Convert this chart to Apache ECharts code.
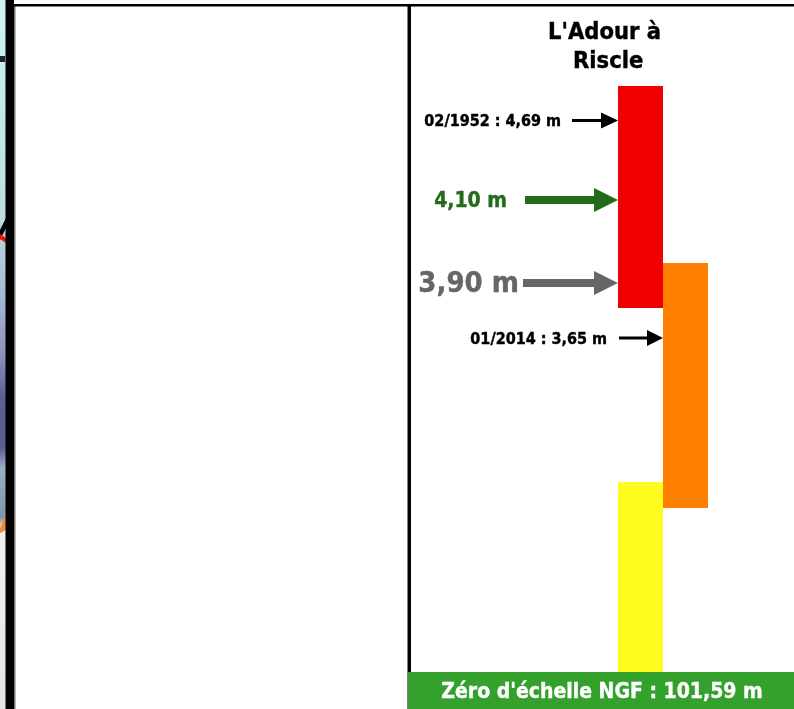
<!DOCTYPE html>
<html><head><meta charset="utf-8">
<style>html,body{margin:0;padding:0;background:#fff}#c{width:794px;height:709px}</style>
<script src="https://cdn.jsdelivr.net/npm/echarts@6/dist/echarts.min.js"></script>
</head><body><div id="c"></div>
<script>
// Schematic, not to scale: levels are read off the figure's hidden vertical axis
const columns = ['gauche', 'droite'];
const bandColumn = [0, 1, 0];
const bandLow = [364, 164, 0];
const bandHigh = [586, 409, 190];
const bandColors = ['#f00000', '#ff8000', '#fffb1e'];
const markerLabels = ['02/1952 : 4,69 m', '4,10 m', '3,90 m', '01/2014 : 3,65 m'];
const markerColumn = [0, 0, 0, 1];
const markerLevels = [551.5, 472, 389, 334];
const titleText = "L'Adour à\n Riscle";
const footerText = "Zéro d'échelle NGF : 101,59 m";

const FONT = '"DejaVu Sans Condensed", "DejaVu Sans", sans-serif';
const markerStyles = [
  {color:'#000',    font:16,  shaft:46, head:17, headW:16, thick:3, gap:11},
  {color:'#246b1c', font:21,  shaft:93, head:24, headW:24, thick:8, gap:18},
  {color:'#666666', font:29,  shaft:95, head:24, headW:24, thick:8, gap:4},
  {color:'#000',    font:16,  shaft:44, head:16, headW:16, thick:3, gap:12}
];

const bandData = bandColumn.map((c,i)=>[c,bandLow[i],bandHigh[i],i]);
const markerData = markerColumn.map((c,i)=>[c,markerLevels[i],i]);

const chart = echarts.init(document.getElementById('c'), null, {width:794, height:709});
chart.setOption({
  animation:false,
  backgroundColor:'#fff',
  title:{text:titleText, left:599.5, top:14, textAlign:'center',
    textStyle:{fontFamily:FONT,fontWeight:'bold',fontSize:23.5,lineHeight:28.5,color:'#000',textBorderColor:'#000',textBorderWidth:0.4}},
  grid:{left:618, width:90, top:0, height:672},
  xAxis:{type:'category',data:columns,show:false},
  yAxis:{type:'value',min:0,max:672,show:false},
  graphic:{elements:[
    {type:'rect',z:0,shape:{x:0,y:0,width:6,height:709},style:{fill:{type:'linear',x:0,y:0,x2:0,y2:1,colorStops:[
      {offset:0,color:'#d4f4f2'},{offset:.1,color:'#c6ecec'},{offset:.3,color:'#bcdce2'},{offset:.42,color:'#a6b8d2'},
      {offset:.5,color:'#8f90bc'},{offset:.56,color:'#5f5f96'},{offset:.63,color:'#5a5a92'},{offset:.66,color:'#9ab0c6'},{offset:.73,color:'#7f93aa'},
      {offset:.745,color:'#f0f0f0'},{offset:1,color:'#e4e4e4'}]}}},
    {type:'rect',z:1,shape:{x:0,y:56,width:5,height:6},style:{fill:'#223'}},
    {type:'polygon',z:1,shape:{points:[[0,230],[6,218],[6,228],[0,240]]},style:{fill:'#000'}},
    {type:'polygon',z:1,shape:{points:[[0,234],[6,238],[6,243],[0,239]]},style:{fill:'#f01010'}},
    {type:'polygon',z:1,shape:{points:[[0,528],[6,514],[6,530],[0,533]]},style:{fill:'#f58a30'}},
    {type:'rect',z:2,shape:{x:5.5,y:0,width:8.5,height:709},style:{fill:'#000'}},
    {type:'rect',z:2,shape:{x:14,y:4,width:1.5,height:705},style:{fill:'#777'}},
    {type:'rect',z:2,shape:{x:14,y:4,width:780,height:2.5},style:{fill:'#000'}},
    {type:'rect',z:2,shape:{x:407.5,y:4,width:3.5,height:705},style:{fill:'#000'}},
    {type:'rect',z:5,shape:{x:408,y:672,width:386,height:37},style:{fill:'#34a12d'}},
    {type:'text',z:6,x:602,y:693,style:{text:footerText,fill:'#fff',stroke:'#fff',lineWidth:0.4,align:'center',verticalAlign:'middle',
      font:'bold 21px '+FONT}}
  ]},
  series:[
    {type:'custom',coordinateSystem:'cartesian2d',clip:false,data:bandData,
     encode:{x:0,y:[1,2]},
     renderItem(p,api){
       const a=api.coord([api.value(0),api.value(1)]), b=api.coord([api.value(0),api.value(2)]);
       const w=api.size([1,0])[0];
       return {type:'rect',shape:{x:a[0]-w/2,y:b[1],width:w,height:a[1]-b[1]},style:{fill:bandColors[api.value(3)]}};
     }},
    {type:'custom',coordinateSystem:'cartesian2d',clip:false,data:markerData,
     encode:{x:0,y:1},z:3,
     renderItem(p,api){
       const i=api.value(2), s=markerStyles[i];
       const c=api.coord([api.value(0),api.value(1)]);
       const tip=c[0]-api.size([1,0])[0]/2, y=c[1];
       const hb=tip-s.head, tail=tip-s.shaft;
       return {type:'group',children:[
         {type:'rect',shape:{x:tail,y:y-s.thick/2,width:hb-tail+1,height:s.thick},style:{fill:s.color}},
         {type:'polygon',shape:{points:[[tip,y],[hb,y-s.headW/2],[hb,y+s.headW/2]]},style:{fill:s.color}},
         {type:'text',x:tail-s.gap,y:y+1.5,style:{text:markerLabels[i],fill:s.color,stroke:s.color,lineWidth:0.4,align:'right',verticalAlign:'middle',
           font:'bold '+s.font+'px '+FONT}}
       ]};
     }}
  ]
});
</script></body></html>
